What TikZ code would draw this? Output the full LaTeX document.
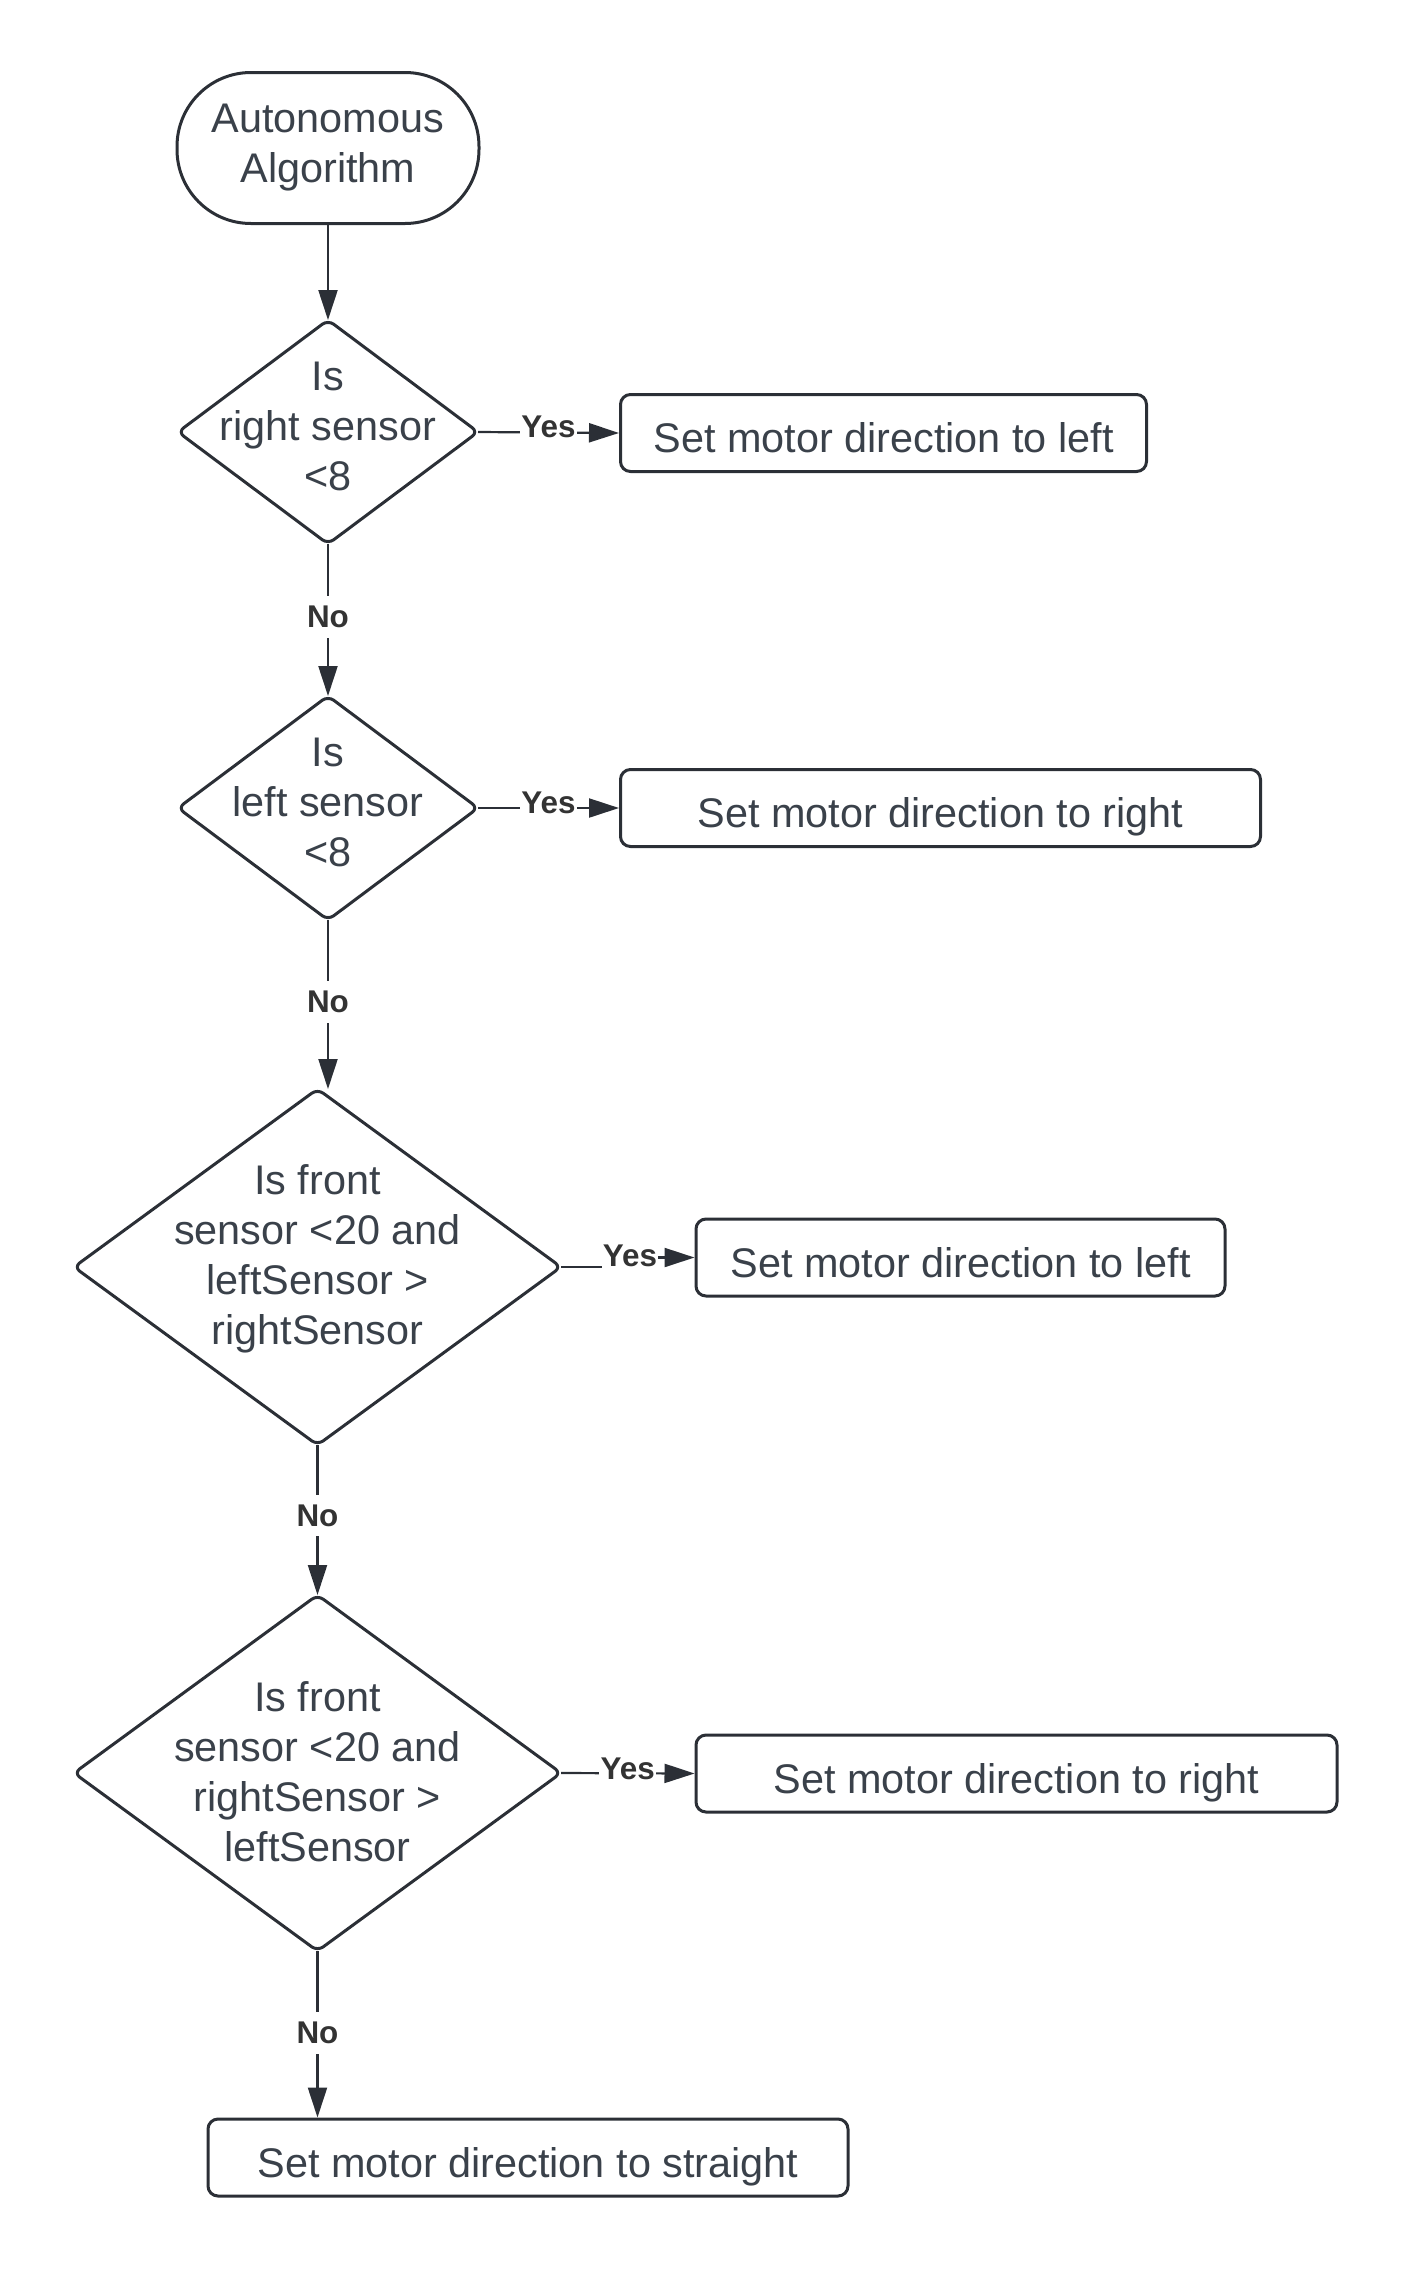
\documentclass[tikz,border=0pt]{standalone}
\usepackage{fontspec}
\setmainfont{Liberation Sans}
\usetikzlibrary{shapes.geometric,arrows.meta}
\definecolor{linec}{HTML}{2B2F36}
\definecolor{textc}{HTML}{3A414A}
\definecolor{lblc}{HTML}{333333}
\tikzset{
  shapeline/.style={draw=linec, line width=1.5pt, text=textc},
  terminal/.style={shapeline, rectangle, rounded corners=37pt, minimum width=151pt, minimum height=75.5pt, inner sep=0pt},
  decision/.style={shapeline, diamond, rounded corners=3.5pt, inner sep=0pt, outer sep=0pt},
  procbox/.style={shapeline, rectangle, rounded corners=5pt, minimum height=38.5pt, inner sep=0pt, text height=19.5pt, text depth=0pt},
  dtext/.style={text=textc, align=center, font=\fontsize{20.7}{25}\selectfont},
  arr/.style={draw=linec, line width=1.1pt, -{Triangle[length=15pt,width=9.5pt]}},
  lbl/.style={fill=white, text=lblc, font=\bfseries\fontsize{15.7}{18}\selectfont, inner xsep=0.6pt, inner ysep=5pt}
}
\begin{document}
\begin{tikzpicture}[x=0.5pt,y=-0.5pt]
\useasboundingbox (0,0) rectangle (1410,2271);
% nodes
\node[terminal, dtext] (term) at (328,148) {Autonomous\\Algorithm};
\node[decision, minimum width=150pt, minimum height=112pt] (d1) at (328,432) {};
\node[dtext] (t1) at (328,426) {Is\\right sensor\\<8};
\node[procbox, dtext, minimum width=263pt] (b1) at (883.5,433) {Set motor direction to left};
\node[decision, minimum width=150pt, minimum height=112pt] (d2) at (328,808) {};
\node[dtext] (t2) at (328,802) {Is\\left sensor\\<8};
\node[procbox, dtext, minimum width=320pt] (b2) at (940.5,808) {Set motor direction to right};
\node[decision, minimum width=243.5pt, minimum height=178pt] (d3) at (317.5,1267) {};
\node[dtext] (t3) at (317.5,1259) {Is front\\sensor <20 and\\leftSensor >\\rightSensor};
\node[procbox, dtext, minimum width=264.5pt] (b3) at (960.5,1257.5) {Set motor direction to left};
\node[decision, minimum width=243.5pt, minimum height=178pt] (d4) at (317.5,1773) {};
\node[dtext] (t4) at (317.5,1772) {Is front\\sensor <20 and\\rightSensor >\\leftSensor};
\node[procbox, dtext, minimum width=320.5pt] (b4) at (1016.5,1773.5) {Set motor direction to right};
\node[procbox, dtext, minimum width=320pt] (b5) at (528,2157.5) {Set motor direction to straight};
% connectors
\draw[arr] (term.south) -- (d1.north);
\draw[arr] (d1.east) -- node[lbl, yshift=2.6pt] (y1) {Yes} (b1.west);
\draw[arr] (d1.south) -- node[lbl, pos=0.48] (n1) {No} (d2.north);
\draw[arr] (d2.east) -- node[lbl, yshift=2.5pt] (y2) {Yes} (b2.west);
\draw[arr] (d2.south) -- node[lbl, pos=0.485] (n2) {No} (d2.south |- d3.north);
\draw[arr] (d3.east) -- ++(69,0) node[lbl, yshift=5.5pt] (y3) {Yes} |- (b3.west);
\draw[arr] (d3.south) -- node[lbl, pos=0.47] (n3) {No} (d4.north);
\draw[arr] (d4.east) -- node[lbl, yshift=2pt] (y4) {Yes} (b4.west);
\draw[arr] (d4.south) -- node[lbl, pos=0.49] (n4) {No} (d4.south |- b5.north);
\end{tikzpicture}
\end{document}
